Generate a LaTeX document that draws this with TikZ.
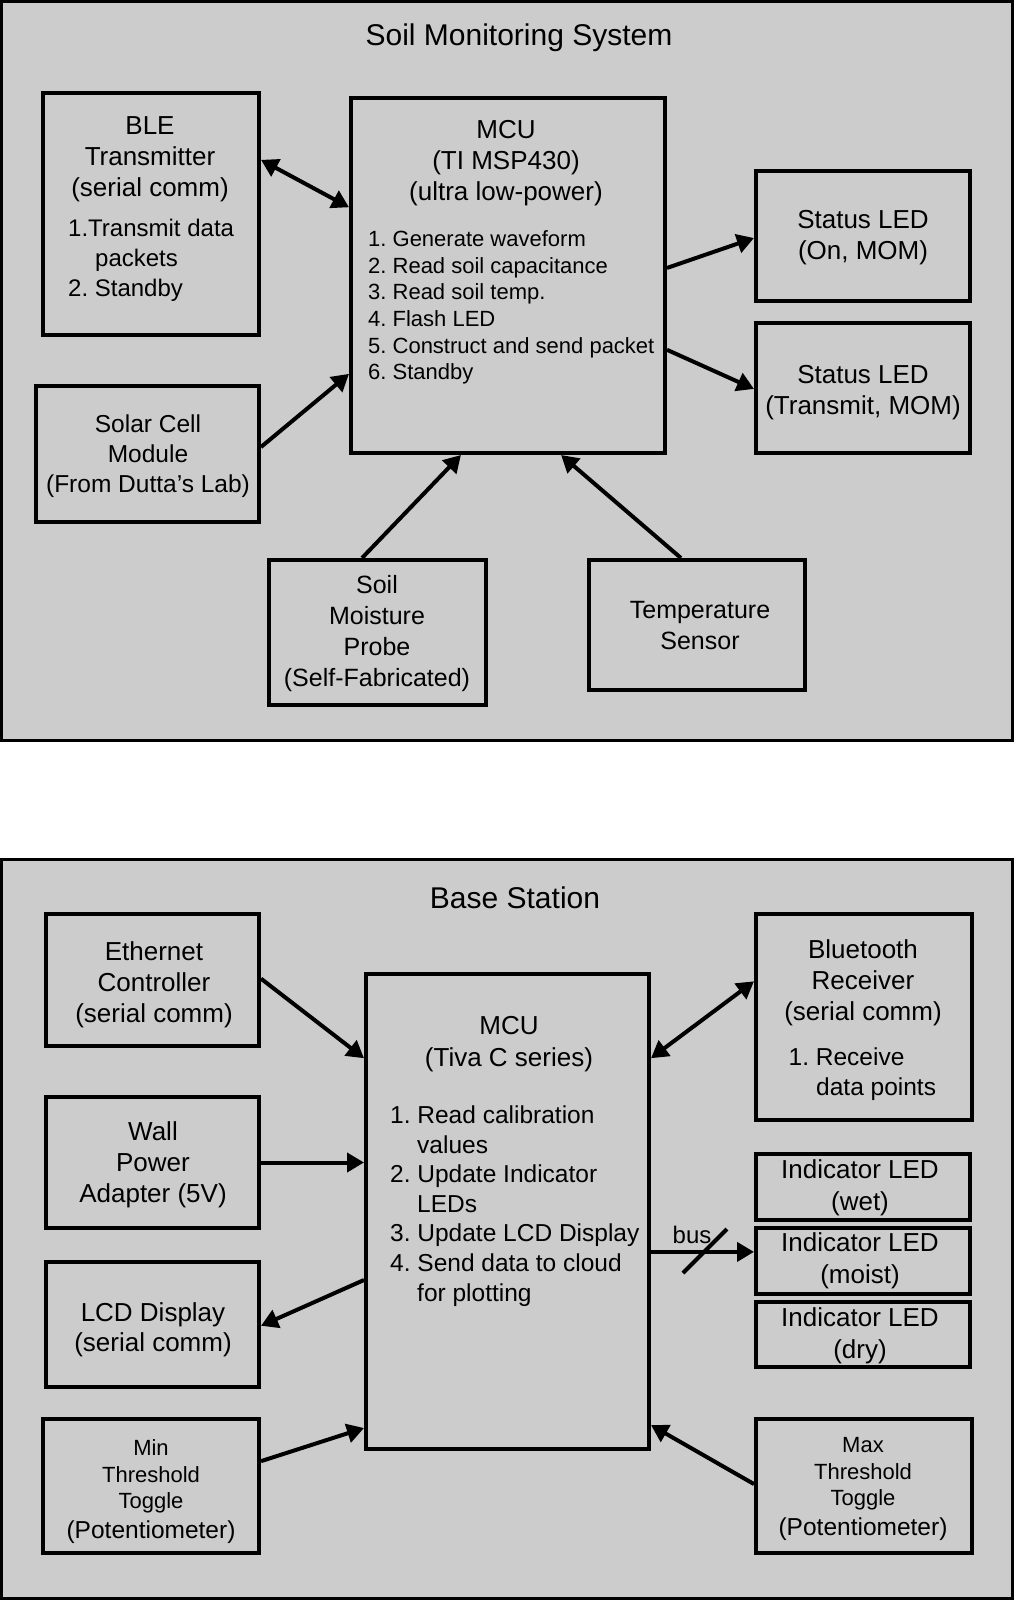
\documentclass[tikz,border=0pt]{standalone}
\usepackage{fontspec}
\setmainfont{Liberation Sans}
\usetikzlibrary{arrows.meta,calc}
\definecolor{panelgray}{HTML}{CCCCCC}
\begin{document}
\frenchspacing
\begin{tikzpicture}[x=1pt,y=-1pt,
  panel/.style={draw=black, line width=3pt, fill=panelgray, inner sep=0, minimum width=1011pt, minimum height=739pt},
  blk/.style={draw=black, line width=4pt, fill=panelgray, inner sep=0},
  txt/.style={inner sep=0, align=center, yshift=-3pt, font=\fontsize{26}{31}\selectfont},
  lst/.style={inner sep=0, align=left, anchor=west, yshift=-3pt},
  ttl/.style={inner sep=0, yshift=-3pt, font=\fontsize{30}{36}\selectfont},
  arr/.style={line width=4pt, -{Triangle[length=17pt,width=19pt]}},
  darr/.style={line width=4pt, {Triangle[length=17pt,width=19pt]}-{Triangle[length=17pt,width=19pt]}},
]
\useasboundingbox (0,0) rectangle (1014,1600);
\fill[white] (0,0) rectangle (1014,1600);

% ---------- panels ----------
\node[panel] (toppanel) at (507,371) {};
\node[panel] (botpanel) at (507,1229) {};
\node[ttl] (title1) at (519,35) {Soil Monitoring System};
\node[ttl] (title2) at (515,895) {Base Station};

% ---------- top boxes ----------
\node[blk, minimum width=216pt, minimum height=242pt] (ble) at (151,214) {};
\node[blk, minimum width=314pt, minimum height=355pt] (mcu1) at (508,275.5) {};
\node[blk, minimum width=214pt, minimum height=130pt] (led1) at (863,236) {};
\node[blk, minimum width=214pt, minimum height=130pt] (led2) at (863,388) {};
\node[blk, minimum width=223pt, minimum height=136pt] (solar) at (147.5,454) {};
\node[blk, minimum width=217pt, minimum height=145pt] (probe) at (377.5,632.5) {};
\node[blk, minimum width=216pt, minimum height=130pt] (temp) at (697,625) {};

\node[txt] (bleT) at (150,156) {BLE\\Transmitter\\(serial comm)};
\node[lst, font=\fontsize{24}{30}\selectfont] (bleL) at (68,257) {1.Transmit data\\\hspace*{27pt}packets\\2. Standby};
\node[txt] (mcu1T) at (506,160) {MCU\\(TI MSP430)\\(ultra low-power)};
\node[lst, font=\fontsize{22}{26.6}\selectfont] (mcu1L) at (368,304.5) {1. Generate waveform\\2. Read soil capacitance\\3. Read soil temp.\\4. Flash LED\\5. Construct and send packet\\6. Standby};
\node[txt] (led1T) at (863,235) {Status LED\\(On, MOM)};
\node[txt] (led2T) at (863,390) {Status LED\\(Transmit, MOM)};
\node[txt, font=\fontsize{24.5}{29.7}\selectfont] (solarT) at (148,453) {Solar Cell\\Module\\(From Dutta’s Lab)};
\node[txt, font=\fontsize{25}{31}\selectfont] (probeT) at (377,631) {Soil\\Moisture\\Probe\\(Self-Fabricated)};
\node[txt, font=\fontsize{25}{31}\selectfont] (tempT) at (700,623) {Temperature\\Sensor};

% ---------- top connectors ----------
\draw[darr] ($(ble.north east)!0.28!(ble.south east)$) -- ($(mcu1.north west)!0.31!(mcu1.south west)$);
\draw[arr] ($(solar.north east)!0.45!(solar.south east)$) -- ($(mcu1.north west)!0.774!(mcu1.south west)$);
\draw[arr] ($(mcu1.north east)!0.479!(mcu1.south east)$) -- ($(led1.north west)!0.515!(led1.south west)$);
\draw[arr] ($(mcu1.north east)!0.707!(mcu1.south east)$) -- ($(led2.north west)!0.507!(led2.south west)$);
\draw[arr] ($(probe.north west)!0.43!(probe.north east)$) -- ($(mcu1.south west)!0.352!(mcu1.south east)$);
\draw[arr] ($(temp.north west)!0.427!(temp.north east)$) -- ($(mcu1.south west)!0.667!(mcu1.south east)$);

% ---------- bottom boxes ----------
\node[blk, minimum width=213pt, minimum height=132pt] (eth) at (152.5,980) {};
\node[blk, minimum width=213pt, minimum height=131pt] (wall) at (152.5,1162.5) {};
\node[blk, minimum width=213pt, minimum height=125pt] (lcd) at (152.5,1324.5) {};
\node[blk, minimum width=216pt, minimum height=134pt] (minp) at (151,1486) {};
\node[blk, minimum width=283pt, minimum height=475pt] (mcu2) at (507.5,1211.5) {};
\node[blk, minimum width=216pt, minimum height=206pt] (bt) at (864,1017) {};
\node[blk, minimum width=214pt, minimum height=66pt] (wet) at (863,1187) {};
\node[blk, minimum width=214pt, minimum height=66pt] (moist) at (863,1261) {};
\node[blk, minimum width=214pt, minimum height=65pt] (dry) at (863,1334.5) {};
\node[blk, minimum width=216pt, minimum height=134pt] (maxp) at (864,1486) {};

\node[txt] (ethT) at (154,981.5) {Ethernet\\Controller\\(serial comm)};
\node[txt] (wallT) at (153,1162) {Wall\\Power\\Adapter (5V)};
\node[txt, font=\fontsize{26}{30}\selectfont] (lcdT) at (153,1327) {LCD Display\\(serial comm)};
\node[txt, font=\fontsize{22}{26.7}\selectfont] (minT) at (151,1473.5) {Min\\Threshold\\Toggle};
\node[txt, font=\fontsize{24.5}{29}\selectfont] (minP) at (151,1529) {(Potentiometer)};
\node[txt, font=\fontsize{22}{26.5}\selectfont] (maxT) at (863,1471) {Max\\Threshold\\Toggle};
\node[txt, font=\fontsize{24.5}{29}\selectfont] (maxP) at (863,1526) {(Potentiometer)};
\node[txt, font=\fontsize{26}{32}\selectfont] (mcu2T) at (509,1041) {MCU\\(Tiva C series)};
\node[lst, font=\fontsize{24.5}{29.6}\selectfont] (mcu2L) at (390,1203) {1. Read calibration\\\hspace*{27pt}values\\2. Update Indicator\\\hspace*{27pt}LEDs\\3. Update LCD Display\\4. Send data to cloud\\\hspace*{27pt}for plotting};
\node[txt] (btT) at (863,980) {Bluetooth\\Receiver\\(serial comm)};
\node[lst, font=\fontsize{24.5}{29.5}\selectfont] (btL) at (788.5,1071) {1. Receive\\\hspace*{27.5pt}data points};
\node[txt, font=\fontsize{26}{31.5}\selectfont] (wetT) at (860,1185) {Indicator LED\\(wet)};
\node[txt, font=\fontsize{26}{31.5}\selectfont] (moistT) at (860,1258) {Indicator LED\\(moist)};
\node[txt, font=\fontsize{26}{31.5}\selectfont] (dryT) at (860,1333) {Indicator LED\\(dry)};

% ---------- bottom connectors ----------
\draw[arr] ($(eth.north east)!0.49!(eth.south east)$) -- ($(mcu2.north west)!0.18!(mcu2.south west)$);
\draw[arr] (wall.east) -- (wall.east -| mcu2.west);
\draw[arr] ($(mcu2.north west)!0.643!(mcu2.south west)$) -- ($(lcd.north east)!0.51!(lcd.south east)$);
\draw[arr] ($(minp.north east)!0.32!(minp.south east)$) -- ($(mcu2.north west)!0.952!(mcu2.south west)$);
\draw[darr] ($(bt.north west)!0.33!(bt.south west)$) -- ($(mcu2.north east)!0.18!(mcu2.south east)$);
\draw[arr] ($(maxp.north west)!0.486!(maxp.south west)$) -- ($(mcu2.north east)!0.946!(mcu2.south east)$);
\coordinate (busend) at ($(moist.north west)!0.37!(moist.south west)$);
\draw[arr] (mcu2.east |- busend) -- (busend);
\coordinate (busmid) at (705,1251);
\draw[line width=4pt] ([shift={(-22,22)}]busmid) -- ([shift={(22,-22)}]busmid);
\node[inner sep=0, yshift=-3pt, font=\fontsize{24}{28}\selectfont] (busT) at (692,1232) {bus};
\end{tikzpicture}
\end{document}
